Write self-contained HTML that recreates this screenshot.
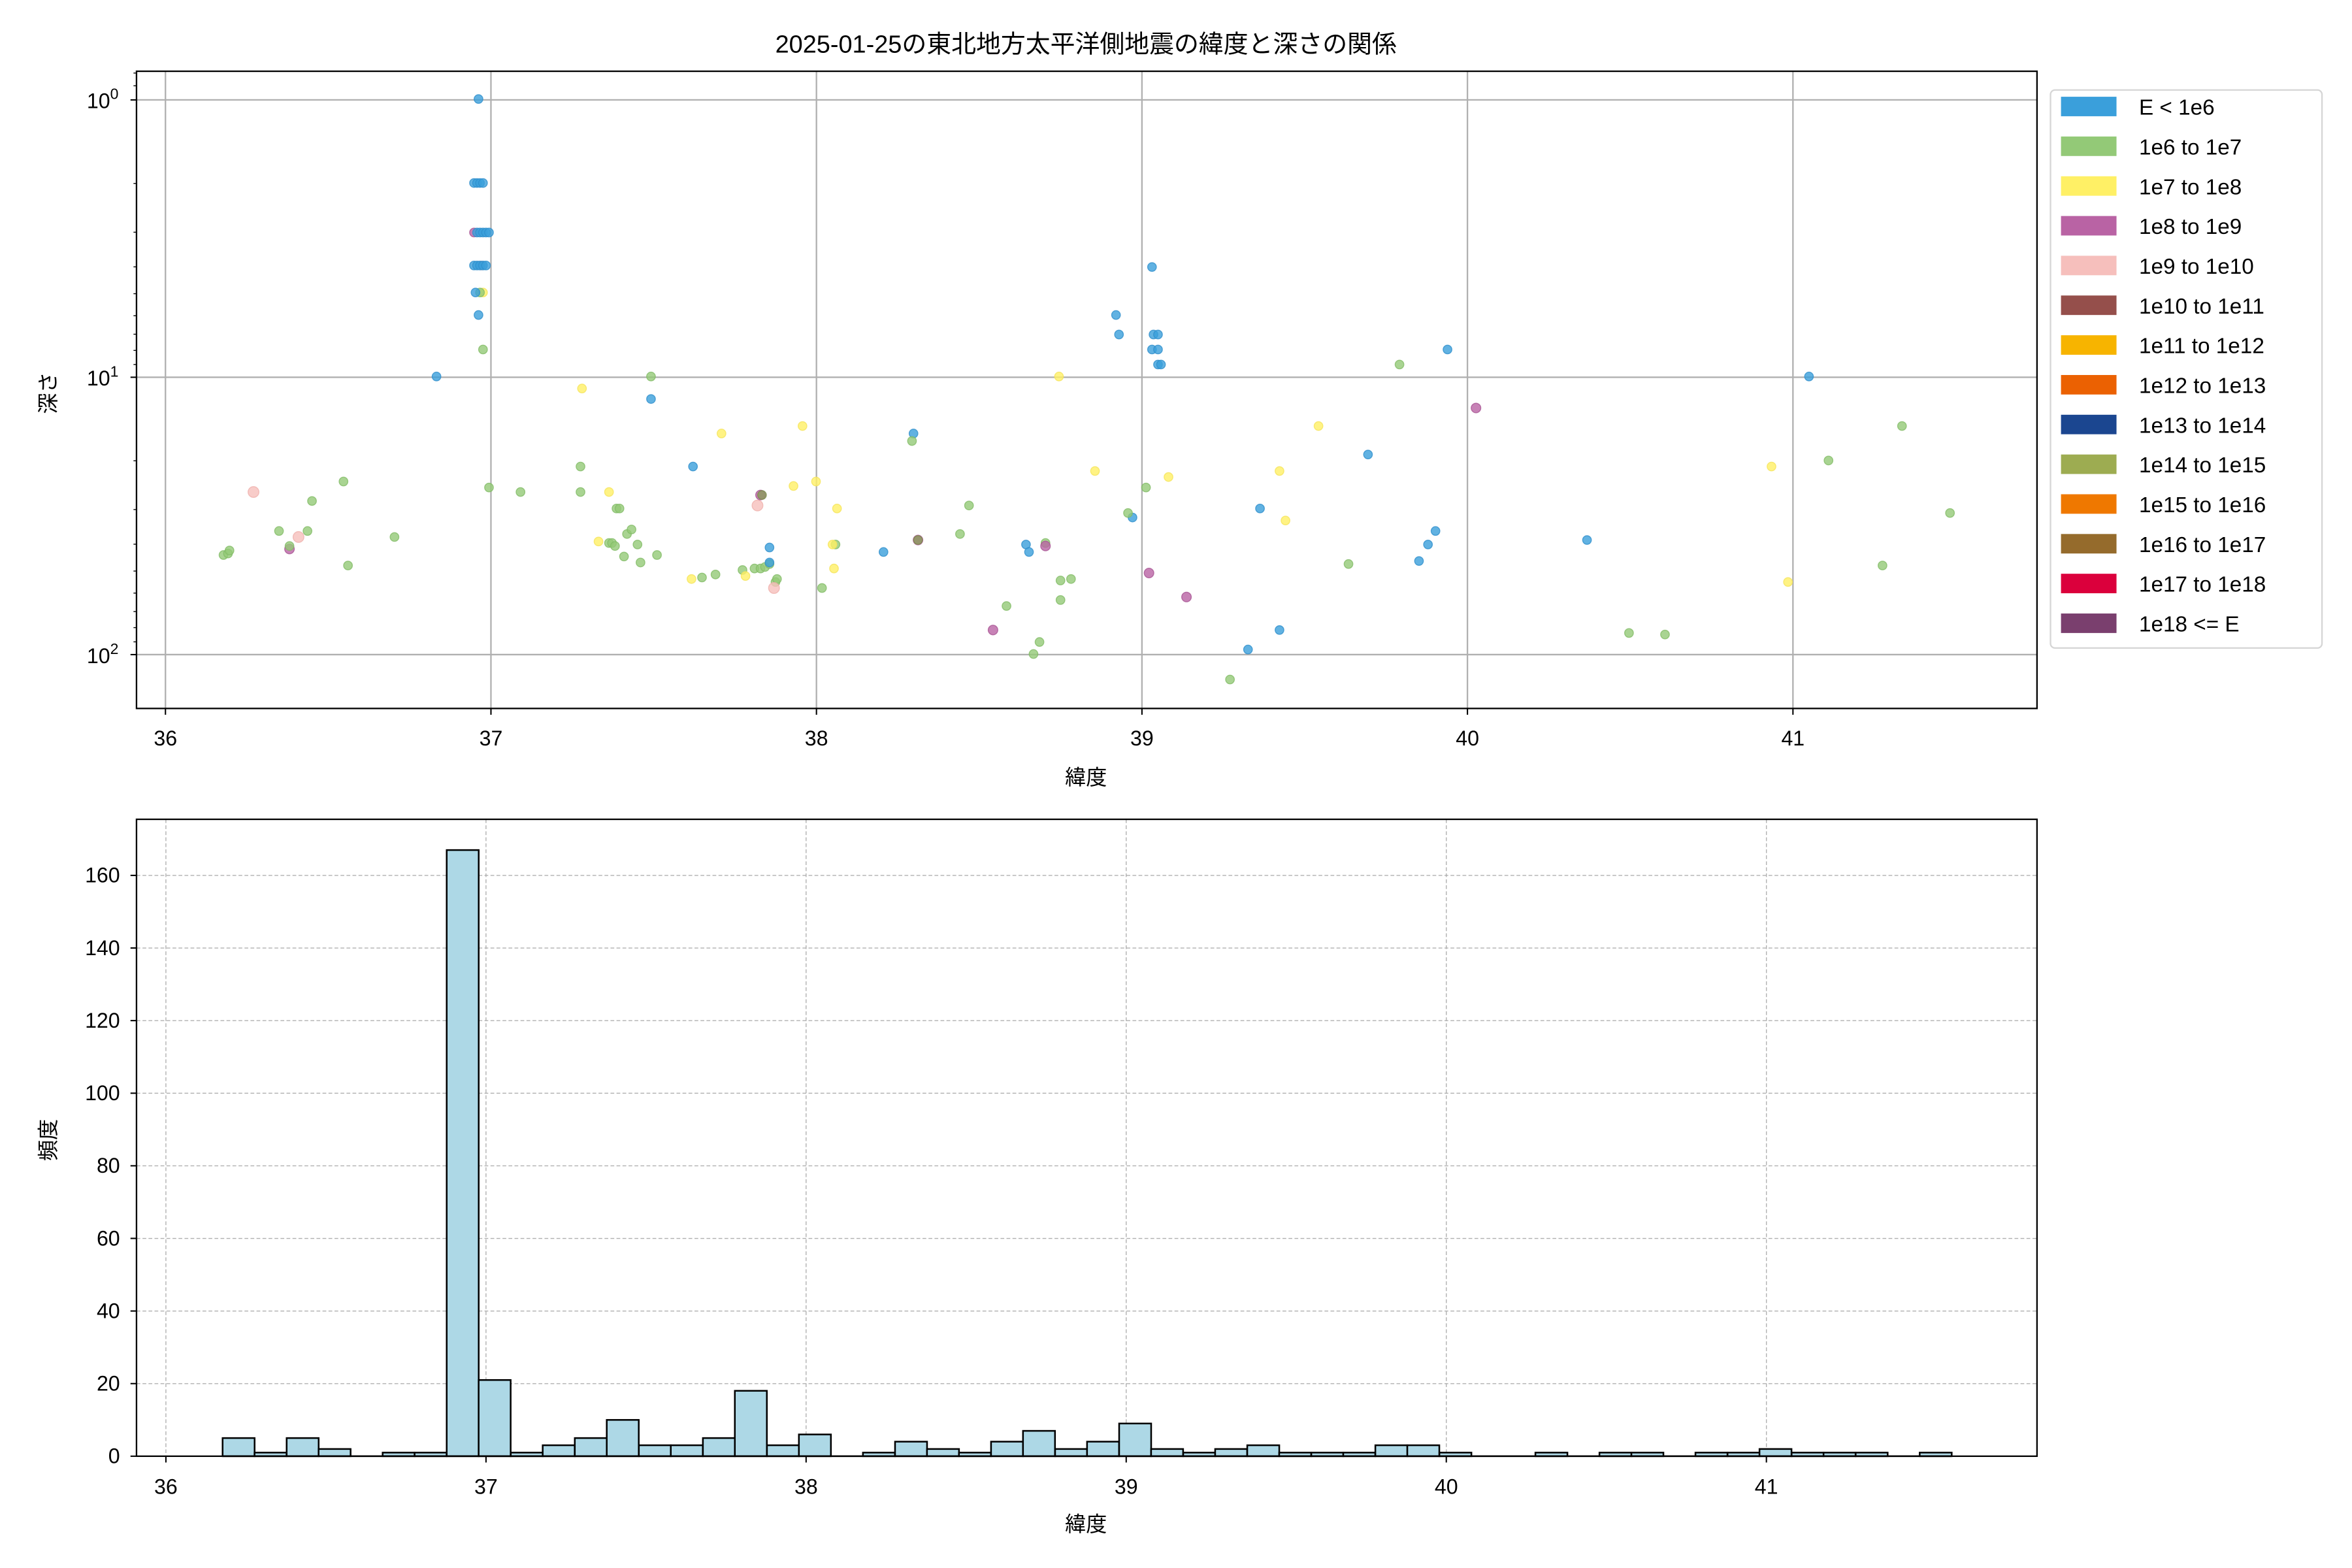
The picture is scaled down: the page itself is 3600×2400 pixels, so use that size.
<!DOCTYPE html>
<html><head><meta charset="utf-8"><style>
html,body{margin:0;padding:0;background:#fff;}
svg{display:block;}
text{font-family:"Liberation Sans","Noto Sans CJK JP",sans-serif;fill:#000;}
.b{fill:#3a9fdb;stroke:#2f8fcc}
.g{fill:#93c977;stroke:#82bb66}
.y{fill:#fff065;stroke:#f5e45a}
.p{fill:#b963a4;stroke:#a85593}
.k{fill:#f6bfbc;stroke:#efb0ad}
.n{fill:#8a9a5b;stroke:#7a8a4b}
circle{stroke-width:0.6;fill-opacity:0.8;stroke-opacity:0.8}
</style></head><body>
<svg width="3600" height="2400" viewBox="0 0 1568 1045.33" xmlns="http://www.w3.org/2000/svg">
<rect width="1568" height="1045.33" fill="#fff"/>
<text x="724" y="35" font-size="16.5" text-anchor="middle">2025-01-25の東北地方太平洋側地震の緯度と深さの関係</text>

<g stroke="#b0b0b0" stroke-width="1">
<line x1="110.3" y1="47.5" x2="110.3" y2="472.3"/>
<line x1="327.3" y1="47.5" x2="327.3" y2="472.3"/>
<line x1="544.3" y1="47.5" x2="544.3" y2="472.3"/>
<line x1="761.3" y1="47.5" x2="761.3" y2="472.3"/>
<line x1="978.3" y1="47.5" x2="978.3" y2="472.3"/>
<line x1="1195.3" y1="47.5" x2="1195.3" y2="472.3"/>
<line x1="91" y1="66.6" x2="1358" y2="66.6"/>
<line x1="91" y1="251.5" x2="1358" y2="251.5"/>
<line x1="91" y1="436.4" x2="1358" y2="436.4"/>
</g>
<g>
<circle class="b" cx="319" cy="66" r="2.9"/>
<circle class="b" cx="316" cy="122" r="2.9"/><circle class="b" cx="318" cy="122" r="2.9"/><circle class="b" cx="320" cy="122" r="2.9"/><circle class="b" cx="322" cy="122" r="2.9"/>
<circle class="p" cx="316" cy="155" r="2.9"/><circle class="b" cx="318" cy="155" r="2.9"/><circle class="b" cx="320" cy="155" r="2.9"/><circle class="b" cx="322" cy="155" r="2.9"/><circle class="b" cx="324" cy="155" r="2.9"/><circle class="b" cx="326" cy="155" r="2.9"/>
<circle class="k" cx="321" cy="177" r="2.9"/><circle class="b" cx="316" cy="177" r="2.9"/><circle class="b" cx="318" cy="177" r="2.9"/><circle class="b" cx="320" cy="177" r="2.9"/><circle class="b" cx="322" cy="177" r="2.9"/><circle class="b" cx="324" cy="177" r="2.9"/>
<circle class="y" cx="322" cy="195" r="2.9"/><circle class="g" cx="320" cy="195" r="2.9"/><circle class="b" cx="317" cy="195" r="2.9"/>
<circle class="b" cx="319" cy="210" r="2.9"/><circle class="g" cx="322" cy="233" r="2.9"/>
<circle class="b" cx="291" cy="251" r="2.9"/><circle class="b" cx="434" cy="266" r="2.9"/><circle class="g" cx="434" cy="251" r="2.9"/>
<circle class="b" cx="609" cy="289" r="2.9"/><circle class="g" cx="608" cy="294" r="2.9"/><circle class="b" cx="462" cy="311" r="2.9"/>
<circle class="b" cx="744" cy="210" r="2.9"/><circle class="b" cx="746" cy="223" r="2.9"/><circle class="b" cx="769" cy="223" r="2.9"/><circle class="b" cx="772" cy="223" r="2.9"/><circle class="b" cx="768" cy="233" r="2.9"/><circle class="b" cx="772" cy="233" r="2.9"/><circle class="b" cx="772" cy="243" r="2.9"/><circle class="b" cx="774" cy="243" r="2.9"/><circle class="b" cx="768" cy="178" r="2.9"/>
<circle class="b" cx="912" cy="303" r="2.9"/><circle class="b" cx="965" cy="233" r="2.9"/><circle class="b" cx="1206" cy="251" r="2.9"/><circle class="b" cx="840" cy="339" r="2.9"/><circle class="b" cx="755" cy="345" r="2.9"/>
<circle class="b" cx="684" cy="363" r="2.9"/><circle class="b" cx="686" cy="368" r="2.9"/><circle class="b" cx="589" cy="368" r="2.9"/><circle class="b" cx="832" cy="433" r="2.9"/><circle class="b" cx="853" cy="420" r="2.9"/><circle class="b" cx="946" cy="374" r="2.9"/><circle class="b" cx="952" cy="363" r="2.9"/><circle class="b" cx="957" cy="354" r="2.9"/><circle class="b" cx="1058" cy="360" r="2.9"/>
<circle class="g" cx="149" cy="370" r="2.9"/><circle class="g" cx="152" cy="369" r="2.9"/><circle class="g" cx="153" cy="367" r="2.9"/><circle class="g" cx="186" cy="354" r="2.9"/><circle class="g" cx="205" cy="354" r="2.9"/><circle class="g" cx="208" cy="334" r="2.9"/><circle class="g" cx="229" cy="321" r="2.9"/><circle class="g" cx="232" cy="377" r="2.9"/><circle class="g" cx="263" cy="358" r="2.9"/>
<circle class="g" cx="326" cy="325" r="2.9"/><circle class="g" cx="347" cy="328" r="2.9"/><circle class="g" cx="387" cy="311" r="2.9"/><circle class="g" cx="387" cy="328" r="2.9"/><circle class="g" cx="411" cy="339" r="2.9"/><circle class="g" cx="413" cy="339" r="2.9"/>
<circle class="g" cx="406" cy="362" r="2.9"/><circle class="g" cx="408" cy="362" r="2.9"/><circle class="g" cx="410" cy="364" r="2.9"/><circle class="g" cx="418" cy="356" r="2.9"/><circle class="g" cx="421" cy="353" r="2.9"/><circle class="g" cx="416" cy="371" r="2.9"/><circle class="g" cx="425" cy="363" r="2.9"/><circle class="g" cx="427" cy="375" r="2.9"/><circle class="g" cx="438" cy="370" r="2.9"/>
<circle class="g" cx="468" cy="385" r="2.9"/><circle class="g" cx="477" cy="383" r="2.9"/><circle class="g" cx="495" cy="380" r="2.9"/><circle class="g" cx="503" cy="379" r="2.9"/><circle class="g" cx="507" cy="379" r="2.9"/><circle class="g" cx="510" cy="378" r="2.9"/><circle class="g" cx="513" cy="376" r="2.9"/><circle class="g" cx="517" cy="388" r="2.9"/><circle class="g" cx="518" cy="386" r="2.9"/>
<circle class="b" cx="513" cy="365" r="2.9"/><circle class="b" cx="513" cy="375" r="2.9"/>
<circle class="g" cx="548" cy="392" r="2.9"/><circle class="g" cx="557" cy="363" r="2.9"/><circle class="g" cx="640" cy="356" r="2.9"/><circle class="g" cx="646" cy="337" r="2.9"/><circle class="g" cx="671" cy="404" r="2.9"/><circle class="g" cx="689" cy="436" r="2.9"/><circle class="g" cx="693" cy="428" r="2.9"/><circle class="g" cx="697" cy="362" r="2.9"/><circle class="g" cx="707" cy="387" r="2.9"/><circle class="g" cx="714" cy="386" r="2.9"/><circle class="g" cx="707" cy="400" r="2.9"/>
<circle class="g" cx="764" cy="325" r="2.9"/><circle class="g" cx="752" cy="342" r="2.9"/><circle class="g" cx="820" cy="453" r="2.9"/><circle class="g" cx="899" cy="376" r="2.9"/><circle class="g" cx="933" cy="243" r="2.9"/><circle class="g" cx="1086" cy="422" r="2.9"/><circle class="g" cx="1110" cy="423" r="2.9"/><circle class="g" cx="1219" cy="307" r="2.9"/><circle class="g" cx="1255" cy="377" r="2.9"/><circle class="g" cx="1268" cy="284" r="2.9"/><circle class="g" cx="1300" cy="342" r="2.9"/>
<circle class="y" cx="388" cy="259" r="2.9"/><circle class="y" cx="706" cy="251" r="2.9"/><circle class="y" cx="481" cy="289" r="2.9"/><circle class="y" cx="535" cy="284" r="2.9"/><circle class="y" cx="529" cy="324" r="2.9"/><circle class="y" cx="544" cy="321" r="2.9"/><circle class="y" cx="558" cy="339" r="2.9"/><circle class="y" cx="555" cy="363" r="2.9"/><circle class="y" cx="556" cy="379" r="2.9"/>
<circle class="y" cx="399" cy="361" r="2.9"/><circle class="y" cx="461" cy="386" r="2.9"/><circle class="y" cx="497" cy="384" r="2.9"/><circle class="y" cx="406" cy="328" r="2.9"/><circle class="y" cx="730" cy="314" r="2.9"/><circle class="y" cx="779" cy="318" r="2.9"/><circle class="y" cx="853" cy="314" r="2.9"/><circle class="y" cx="857" cy="347" r="2.9"/><circle class="y" cx="879" cy="284" r="2.9"/><circle class="y" cx="1181" cy="311" r="2.9"/><circle class="y" cx="1192" cy="388" r="2.9"/>
<circle class="k" cx="169" cy="328" r="3.6"/><circle class="k" cx="199" cy="358" r="3.6"/><circle class="k" cx="505" cy="337" r="3.6"/><circle class="k" cx="516" cy="392" r="3.6"/>
<circle class="p" cx="193" cy="366" r="3.2"/><circle class="g" cx="193" cy="364" r="2.9"/><circle class="p" cx="507" cy="330" r="3.2"/><circle class="n" cx="508" cy="330" r="2.9"/><circle class="p" cx="697" cy="364" r="3.2"/><circle class="p" cx="662" cy="420" r="3.2"/><circle class="p" cx="766" cy="382" r="3.2"/><circle class="p" cx="791" cy="398" r="3.2"/><circle class="p" cx="984" cy="272" r="3.2"/><circle class="p" cx="612" cy="360" r="3.2"/><circle class="n" cx="612" cy="360" r="2.9"/>
</g>
<rect x="91" y="47.5" width="1267" height="424.8" fill="none" stroke="#000" stroke-width="1"/>
<g stroke="#000" stroke-width="0.9">
<line x1="110.3" y1="472.3" x2="110.3" y2="476.5"/><line x1="327.3" y1="472.3" x2="327.3" y2="476.5"/><line x1="544.3" y1="472.3" x2="544.3" y2="476.5"/><line x1="761.3" y1="472.3" x2="761.3" y2="476.5"/><line x1="978.3" y1="472.3" x2="978.3" y2="476.5"/><line x1="1195.3" y1="472.3" x2="1195.3" y2="476.5"/>
<line x1="87" y1="66.6" x2="91" y2="66.6"/><line x1="87" y1="251.5" x2="91" y2="251.5"/><line x1="87" y1="436.4" x2="91" y2="436.4"/>
</g>
<g stroke="#000" stroke-width="0.6">
<line x1="89" y1="48.7" x2="91" y2="48.7"/><line x1="89" y1="57.2" x2="91" y2="57.2"/>
<line x1="89" y1="122.3" x2="91" y2="122.3"/><line x1="89" y1="154.8" x2="91" y2="154.8"/><line x1="89" y1="177.9" x2="91" y2="177.9"/><line x1="89" y1="195.8" x2="91" y2="195.8"/><line x1="89" y1="210.5" x2="91" y2="210.5"/><line x1="89" y1="222.8" x2="91" y2="222.8"/><line x1="89" y1="233.6" x2="91" y2="233.6"/><line x1="89" y1="243.0" x2="91" y2="243.0"/>
<line x1="89" y1="307.2" x2="91" y2="307.2"/><line x1="89" y1="339.7" x2="91" y2="339.7"/><line x1="89" y1="362.8" x2="91" y2="362.8"/><line x1="89" y1="380.7" x2="91" y2="380.7"/><line x1="89" y1="395.4" x2="91" y2="395.4"/><line x1="89" y1="407.7" x2="91" y2="407.7"/><line x1="89" y1="418.4" x2="91" y2="418.4"/><line x1="89" y1="427.9" x2="91" y2="427.9"/>
</g>
<g font-size="14" text-anchor="middle">
<text x="110.3" y="497">36</text><text x="327.3" y="497">37</text><text x="544.3" y="497">38</text><text x="761.3" y="497">39</text><text x="978.3" y="497">40</text><text x="1195.3" y="497">41</text>
</g>
<g font-size="14" text-anchor="end">
<text x="79" y="72">10<tspan font-size="10" dy="-6">0</tspan></text>
<text x="79" y="257">10<tspan font-size="10" dy="-6">1</tspan></text>
<text x="79" y="442">10<tspan font-size="10" dy="-6">2</tspan></text>
</g>
<text x="724" y="523" font-size="14" text-anchor="middle">緯度</text>
<text transform="translate(37,262) rotate(-90)" font-size="14" text-anchor="middle">深さ</text>

<rect x="1367" y="60" width="181" height="372" rx="3" fill="#fff" stroke="#d5d5d5" stroke-width="1"/>
<g>
<rect x="1374" y="64.5" width="37" height="13" fill="#3a9fdb"/>
<rect x="1374" y="91" width="37" height="13" fill="#93c977"/>
<rect x="1374" y="117.5" width="37" height="13" fill="#fff065"/>
<rect x="1374" y="144" width="37" height="13" fill="#b963a4"/>
<rect x="1374" y="170.5" width="37" height="13" fill="#f6bfbc"/>
<rect x="1374" y="197" width="37" height="13" fill="#954f4b"/>
<rect x="1374" y="223.5" width="37" height="13" fill="#f7b400"/>
<rect x="1374" y="250" width="37" height="13" fill="#eb6102"/>
<rect x="1374" y="276.5" width="37" height="13" fill="#1b4690"/>
<rect x="1374" y="303" width="37" height="13" fill="#9dac51"/>
<rect x="1374" y="329.5" width="37" height="13" fill="#ef7800"/>
<rect x="1374" y="356" width="37" height="13" fill="#956b2c"/>
<rect x="1374" y="382.5" width="37" height="13" fill="#db003c"/>
<rect x="1374" y="409" width="37" height="13" fill="#7a3f6e"/>
</g>
<g font-size="14.5">
<text x="1426" y="76.5">E &lt; 1e6</text>
<text x="1426" y="103">1e6 to 1e7</text>
<text x="1426" y="129.5">1e7 to 1e8</text>
<text x="1426" y="156">1e8 to 1e9</text>
<text x="1426" y="182.5">1e9 to 1e10</text>
<text x="1426" y="209">1e10 to 1e11</text>
<text x="1426" y="235.5">1e11 to 1e12</text>
<text x="1426" y="262">1e12 to 1e13</text>
<text x="1426" y="288.5">1e13 to 1e14</text>
<text x="1426" y="315">1e14 to 1e15</text>
<text x="1426" y="341.5">1e15 to 1e16</text>
<text x="1426" y="368">1e16 to 1e17</text>
<text x="1426" y="394.5">1e17 to 1e18</text>
<text x="1426" y="421">1e18 &lt;= E</text>
</g>

<g stroke="#b0b0b0" stroke-width="0.6" stroke-dasharray="2.5,1.5">
<line x1="110.6" y1="546.2" x2="110.6" y2="970.8"/><line x1="324" y1="546.2" x2="324" y2="970.8"/><line x1="537.4" y1="546.2" x2="537.4" y2="970.8"/><line x1="750.8" y1="546.2" x2="750.8" y2="970.8"/><line x1="964.2" y1="546.2" x2="964.2" y2="970.8"/><line x1="1177.6" y1="546.2" x2="1177.6" y2="970.8"/>
<line x1="91" y1="922.4" x2="1358" y2="922.4"/><line x1="91" y1="874.0" x2="1358" y2="874.0"/><line x1="91" y1="825.6" x2="1358" y2="825.6"/><line x1="91" y1="777.2" x2="1358" y2="777.2"/><line x1="91" y1="728.8" x2="1358" y2="728.8"/><line x1="91" y1="680.4" x2="1358" y2="680.4"/><line x1="91" y1="632.0" x2="1358" y2="632.0"/><line x1="91" y1="583.6" x2="1358" y2="583.6"/>
</g>
<g fill="#add8e6" stroke="#000" stroke-width="1.1">
<rect x="148.4" y="958.7" width="21.34" height="12.1"/>
<rect x="169.7" y="968.4" width="21.34" height="2.4"/>
<rect x="191.1" y="958.7" width="21.34" height="12.1"/>
<rect x="212.4" y="966.0" width="21.34" height="4.8"/>
<rect x="255.1" y="968.4" width="21.34" height="2.4"/>
<rect x="276.4" y="968.4" width="21.34" height="2.4"/>
<rect x="297.8" y="566.7" width="21.34" height="404.1"/>
<rect x="319.1" y="920.0" width="21.34" height="50.8"/>
<rect x="340.5" y="968.4" width="21.34" height="2.4"/>
<rect x="361.8" y="963.5" width="21.34" height="7.3"/>
<rect x="383.2" y="958.7" width="21.34" height="12.1"/>
<rect x="404.5" y="946.6" width="21.34" height="24.2"/>
<rect x="425.9" y="963.5" width="21.34" height="7.3"/>
<rect x="447.2" y="963.5" width="21.34" height="7.3"/>
<rect x="468.6" y="958.7" width="21.34" height="12.1"/>
<rect x="489.9" y="927.2" width="21.34" height="43.6"/>
<rect x="511.3" y="963.5" width="21.34" height="7.3"/>
<rect x="532.6" y="956.3" width="21.34" height="14.5"/>
<rect x="575.3" y="968.4" width="21.34" height="2.4"/>
<rect x="596.7" y="961.1" width="21.34" height="9.7"/>
<rect x="618.0" y="966.0" width="21.34" height="4.8"/>
<rect x="639.3" y="968.4" width="21.34" height="2.4"/>
<rect x="660.7" y="961.1" width="21.34" height="9.7"/>
<rect x="682.0" y="953.9" width="21.34" height="16.9"/>
<rect x="703.4" y="966.0" width="21.34" height="4.8"/>
<rect x="724.7" y="961.1" width="21.34" height="9.7"/>
<rect x="746.1" y="949.0" width="21.34" height="21.8"/>
<rect x="767.4" y="966.0" width="21.34" height="4.8"/>
<rect x="788.8" y="968.4" width="21.34" height="2.4"/>
<rect x="810.1" y="966.0" width="21.34" height="4.8"/>
<rect x="831.5" y="963.5" width="21.34" height="7.3"/>
<rect x="852.8" y="968.4" width="21.34" height="2.4"/>
<rect x="874.2" y="968.4" width="21.34" height="2.4"/>
<rect x="895.5" y="968.4" width="21.34" height="2.4"/>
<rect x="916.9" y="963.5" width="21.34" height="7.3"/>
<rect x="938.2" y="963.5" width="21.34" height="7.3"/>
<rect x="959.6" y="968.4" width="21.34" height="2.4"/>
<rect x="1023.6" y="968.4" width="21.34" height="2.4"/>
<rect x="1066.3" y="968.4" width="21.34" height="2.4"/>
<rect x="1087.6" y="968.4" width="21.34" height="2.4"/>
<rect x="1130.3" y="968.4" width="21.34" height="2.4"/>
<rect x="1151.7" y="968.4" width="21.34" height="2.4"/>
<rect x="1173.0" y="966.0" width="21.34" height="4.8"/>
<rect x="1194.4" y="968.4" width="21.34" height="2.4"/>
<rect x="1215.7" y="968.4" width="21.34" height="2.4"/>
<rect x="1237.1" y="968.4" width="21.34" height="2.4"/>
<rect x="1279.8" y="968.4" width="21.34" height="2.4"/>
</g>
<line x1="148.4" y1="970.8" x2="1301" y2="970.8" stroke="#000" stroke-width="1.1"/>
<rect x="91" y="546.2" width="1267" height="424.6" fill="none" stroke="#000" stroke-width="1"/>
<g stroke="#000" stroke-width="0.9">
<line x1="110.6" y1="970.8" x2="110.6" y2="975"/><line x1="324" y1="970.8" x2="324" y2="975"/><line x1="537.4" y1="970.8" x2="537.4" y2="975"/><line x1="750.8" y1="970.8" x2="750.8" y2="975"/><line x1="964.2" y1="970.8" x2="964.2" y2="975"/><line x1="1177.6" y1="970.8" x2="1177.6" y2="975"/>
<line x1="87" y1="970.8" x2="91" y2="970.8"/><line x1="87" y1="922.4" x2="91" y2="922.4"/><line x1="87" y1="874.0" x2="91" y2="874.0"/><line x1="87" y1="825.6" x2="91" y2="825.6"/><line x1="87" y1="777.2" x2="91" y2="777.2"/><line x1="87" y1="728.8" x2="91" y2="728.8"/><line x1="87" y1="680.4" x2="91" y2="680.4"/><line x1="87" y1="632.0" x2="91" y2="632.0"/><line x1="87" y1="583.6" x2="91" y2="583.6"/>
</g>
<g font-size="14" text-anchor="middle">
<text x="110.6" y="996">36</text><text x="324" y="996">37</text><text x="537.4" y="996">38</text><text x="750.8" y="996">39</text><text x="964.2" y="996">40</text><text x="1177.6" y="996">41</text>
</g>
<g font-size="14" text-anchor="end">
<text x="80" y="975.5">0</text><text x="80" y="927">20</text><text x="80" y="878.7">40</text><text x="80" y="830.3">60</text><text x="80" y="781.9">80</text><text x="80" y="733.5">100</text><text x="80" y="685.1">120</text><text x="80" y="636.7">140</text><text x="80" y="588.3">160</text>
</g>
<text x="724" y="1021" font-size="14" text-anchor="middle">緯度</text>
<text transform="translate(37,760) rotate(-90)" font-size="14" text-anchor="middle">頻度</text>
</svg>
</body></html>
